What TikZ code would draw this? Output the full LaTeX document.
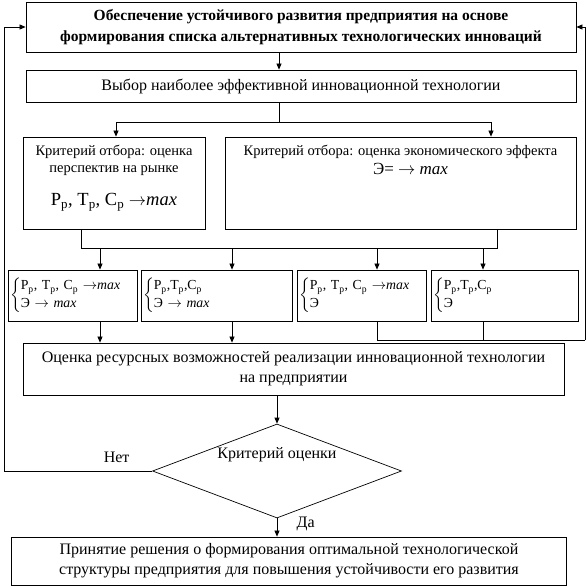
\documentclass[tikz,border=0pt]{standalone}
\usepackage{fontspec}
\usepackage{amsmath}
\setmainfont{Liberation Serif}
\usetikzlibrary{arrows.meta,positioning,shapes.geometric}

\newcommand{\brc}[2]{$\left\{\begin{tabular}{@{}l@{}}#1\\[1pt]#2\end{tabular}\right.$}
\newcommand{\rtc}{Р\textsubscript{р}}
\newcommand{\ttc}{Т\textsubscript{р}}
\newcommand{\stc}{С\textsubscript{р}}

\begin{document}
\begin{tikzpicture}[x=1pt,y=-1pt,
  box/.style={draw,line width=0.8pt,align=center,inner sep=0pt,font=\fontsize{16}{20}\selectfont},
  vbox/.style={draw,line width=0.8pt,align=left,inner sep=0pt,minimum height=51pt,font=\fontsize{13.8}{17}\selectfont},
  lbl/.style={align=center,font=\fontsize{14.5}{17}\selectfont},
  txt/.style={font=\fontsize{16}{18}\selectfont},
  arrow/.style={-{Triangle[length=6pt,width=5pt]},line width=0.7pt},
  line/.style={line width=0.7pt}
]
\useasboundingbox (0,0) rectangle (587,587);

% boxes
\node[box,font=\bfseries\fontsize{15.5}{21}\selectfont,minimum width=550pt,minimum height=50pt] (goal) at (301,27)
  {Обеспечение устойчивого развития предприятия на основе\\формирования списка альтернативных технологических инноваций};
\node[box,minimum width=550pt,minimum height=32pt] (choice) at (301,86) {Выбор наиболее эффективной инновационной технологии};

\node[box,minimum width=182pt,minimum height=92pt,
  label={[lbl,anchor=north,yshift=-5pt]north:{Критерий отбора: оценка\\перспектив на рынке\\[16pt]{\fontsize{18.5}{20}\selectfont\rtc, \ttc, \stc\ $\rightarrow$\textit{max}}}}] (mkt) at (114,183) {};
\node[box,minimum width=351pt,minimum height=92pt,
  label={[lbl,anchor=north,yshift=-5pt]north:{Критерий отбора: оценка экономического эффекта}},
  label={[lbl,anchor=north,yshift=-23pt,xshift=10pt,font=\fontsize{17}{20}\selectfont]north:{Э= $\rightarrow$ \textit{max}}}] (eco) at (400.5,183) {};

\node[vbox,minimum width=129pt,text width=125pt] (v1) at (72.5,295.5) {\brc{\rtc, \ttc, \stc\ $\rightarrow$\textit{max}}{Э $\rightarrow$ \textit{max}}};
\node[vbox,minimum width=151pt,text width=147pt] (v2) at (216.5,295.5) {\brc{\rtc,\ttc,\stc}{Э $\rightarrow$ \textit{max}}};
\node[vbox,minimum width=129pt,text width=125pt] (v3) at (361.5,295.5) {\brc{\rtc, \ttc, \stc\ $\rightarrow$\textit{max}}{Э}};
\node[vbox,minimum width=147pt,text width=143pt] (v4) at (504.5,295.5) {\brc{\rtc,\ttc,\stc}{Э}};

\node[box,minimum width=541pt,minimum height=52pt] (eval) at (293.5,369)
  {Оценка ресурсных возможностей реализации инновационной технологии\\на предприятии};
\node[draw,diamond,line width=0.7pt,inner sep=0pt,minimum width=249pt,minimum height=94pt] (dec) at (277,471) {};
\node[txt] (dectext) at (277,455) {Критерий оценки};
\node[box,minimum width=555pt,minimum height=48pt] (final) at (289,561)
  {Принятие решения о формирования оптимальной технологической\\структуры предприятия для повышения устойчивости его развития};

% connectors
\coordinate (mid) at (279,122);
\coordinate (splitL) at (116,122);
\coordinate (splitR) at (491,122);
\coordinate (joinL) at (81,248);
\coordinate (joinR) at (497,248);
\coordinate (back) at (585,340);
\coordinate (fbL) at (4,0);

\draw[arrow] (goal.south -| mid) -- (choice.north -| mid);
\draw[line] (choice.south -| mid) -- (mid);
\draw[line] (splitL) -- (splitR);
\draw[arrow] (splitL) -- (splitL |- mkt.north);
\draw[arrow] (splitR) -- (splitR |- eco.north);
\draw[line] (mkt.south -| joinL) -- (joinL) -- (joinR) -- (eco.south -| joinR);

\foreach \v/\x in {v1/100,v2/232,v3/377,v4/483}{
  \coordinate (t\v) at (\x,248);
  \draw[arrow] (t\v) -- (t\v |- \v.north);
}
\draw[arrow] (v1.south -| tv1) -- (tv1 |- eval.north);
\draw[arrow] (v2.south -| tv2) -- (tv2 |- eval.north);
\draw[line] (v3.south -| tv3) -- (tv3 |- back) -- (back);
\draw[line] (v4.south -| tv4) -- (tv4 |- back);
\draw[arrow] (back) -- (back |- goal.east) -- (goal.east);

\draw[arrow] (eval.south -| dec.north) -- (dec.north);
\draw[arrow] (dec.west) -- node[pos=0.24,above=5pt,txt] {Нет} (dec.west -| fbL) -- (fbL |- goal.west) -- (goal.west);
\draw[arrow] (dec.south) -- node[right=16pt,pos=0.3,txt] {Да} (dec.south |- final.north);
\end{tikzpicture}
\end{document}
